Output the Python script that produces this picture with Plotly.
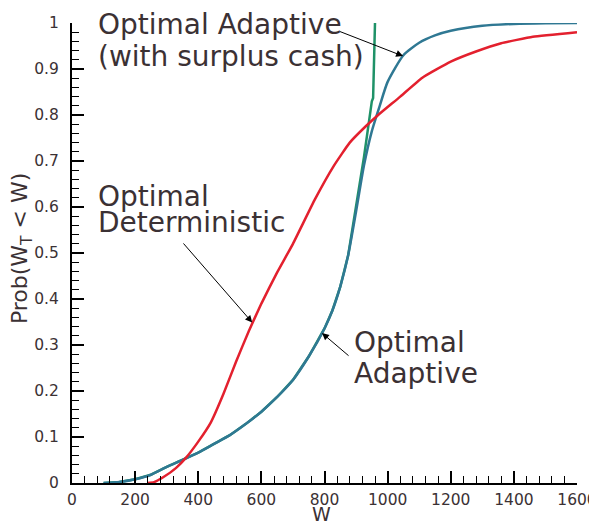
"""CDF of terminal wealth: optimal adaptive vs optimal deterministic strategies."""
import plotly.graph_objects as go

# Optimal Adaptive (blue)
adaptive_w = [100, 150, 200, 250, 300, 350, 400, 450, 500, 550, 600, 650, 700, 750,
              800, 825, 850, 875, 900, 925, 950, 975, 1000, 1050, 1100, 1150, 1200,
              1300, 1400, 1500, 1600]
adaptive_p = [0.0, 0.002, 0.008, 0.018, 0.035, 0.05, 0.066, 0.085, 0.104, 0.128,
              0.155, 0.187, 0.224, 0.275, 0.336, 0.375, 0.427, 0.495, 0.59, 0.69,
              0.765, 0.82, 0.872, 0.93, 0.957, 0.973, 0.983, 0.994, 0.998, 0.9995, 1.0]

# Optimal Adaptive with surplus cash (green) - same as blue until it breaks away
surplus_w_tail = [900, 925, 950, 954, 960]
surplus_p_tail = [0.598, 0.708, 0.83, 0.837, 1.0]

# Optimal Deterministic (red)
determ_w = [240, 260, 290, 330, 360, 400, 440, 480, 520, 560, 600, 650, 700, 770,
            830, 880, 930, 970, 1040, 1110, 1200, 1280, 1360, 1460, 1600]
determ_p = [0.0, 0.002, 0.013, 0.033, 0.054, 0.09, 0.132, 0.194, 0.264, 0.33, 0.39,
            0.458, 0.52, 0.617, 0.69, 0.74, 0.775, 0.8, 0.84, 0.881, 0.916, 0.938,
            0.956, 0.97, 0.98]

x_ticks = [0, 200, 400, 600, 800, 1000, 1200, 1400, 1600]
y_ticks = [0, 0.1, 0.2, 0.3, 0.4, 0.5, 0.6, 0.7, 0.8, 0.9, 1]

_RED = "#e3202e"
_BLUE = "#2f7893"
_GREEN = "#1f9268"
_TEXT = "#3b3134"
_FONT = "DejaVu Sans"

n_shared = adaptive_w.index(875) + 1
surplus_w = adaptive_w[:n_shared] + surplus_w_tail
surplus_p = adaptive_p[:n_shared] + surplus_p_tail

fig = go.Figure()
fig.add_trace(go.Scatter(x=surplus_w, y=surplus_p, mode="lines",
                         line=dict(color=_GREEN, width=2.5), cliponaxis=False))
fig.add_trace(go.Scatter(x=adaptive_w, y=adaptive_p, mode="lines",
                         line=dict(color=_BLUE, width=2.5, shape="spline", smoothing=0.6),
                         cliponaxis=False))
fig.add_trace(go.Scatter(x=determ_w, y=determ_p, mode="lines",
                         line=dict(color=_RED, width=2.5, shape="spline", smoothing=0.4),
                         cliponaxis=False))

labels = [
    ("Optimal Adaptive", 76, 0.996),
    ("(with surplus cash)", 76, 0.928),
    ("Optimal", 76, 0.622),
    ("Deterministic", 76, 0.567),
    ("Optimal", 887, 0.305),
    ("Adaptive", 887, 0.238),
]
for text, x, y in labels:
    fig.add_annotation(x=x, y=y, text=text, showarrow=False, xanchor="left",
                       yanchor="middle", font=dict(family=_FONT, size=28, color=_TEXT))

arrows = [
    ((843, 0.983), (1049, 0.928)),
    ((349, 0.524), (571, 0.349)),
    ((881, 0.274), (792, 0.326)),
]
for (tx, ty), (hx, hy) in arrows:
    fig.add_annotation(x=hx, y=hy, ax=tx, ay=ty, axref="x", ayref="y", text="",
                       showarrow=True, arrowhead=2, arrowsize=1.4, arrowwidth=1,
                       arrowcolor="black")

# axis titles
fig.add_annotation(x=0.495, y=-0.068, xref="paper", yref="paper", text="W",
                   xanchor="center", yanchor="middle", showarrow=False,
                   font=dict(family=_FONT, size=19, color=_TEXT))
fig.add_annotation(x=-0.0996, y=0.51, xref="paper", yref="paper",
                   text="Prob(W<sub>T</sub> < W)", textangle=-90, showarrow=False,
                   xanchor="center", yanchor="middle",
                   font=dict(family=_FONT, size=22, color=_TEXT))

axis_common = dict(
    showline=True, linewidth=2, linecolor="black", mirror=False,
    ticks="inside", ticklen=12, tickwidth=2, tickcolor="black",
    showgrid=False, zeroline=False, ticklabeloverflow="allow", automargin=False,
    tickfont=dict(family=_FONT, size=15.5, color=_TEXT),
)
fig.update_xaxes(range=[0, 1600], tickvals=x_ticks, ticklabelstandoff=1,
                 minor=dict(ticks="inside", ticklen=7, tickwidth=1, tickcolor="black",
                            dtick=40, tick0=0, showgrid=False),
                 **axis_common)
fig.update_yaxes(range=[0, 1], tickvals=y_ticks, ticklabelstandoff=8,
                 minor=dict(ticks="inside", ticklen=7, tickwidth=1, tickcolor="black",
                            dtick=0.02, tick0=0, showgrid=False),
                 **axis_common)
# the page body adds an 8px margin, so the figure is 8px smaller on each side
fig.update_layout(
    width=589, height=519,
    margin=dict(l=64, r=20, t=15, b=44),
    plot_bgcolor="white", paper_bgcolor="white",
    showlegend=False,
)
fig.write_html("out.html")
